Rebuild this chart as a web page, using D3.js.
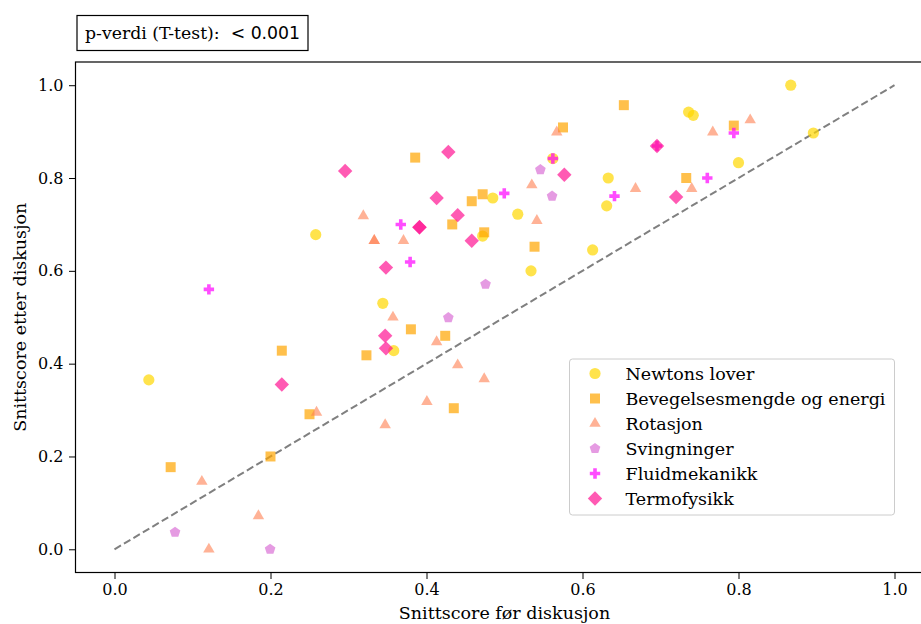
<!DOCTYPE html>
<html>
<head>
<meta charset="utf-8">
<script src="https://cdn.jsdelivr.net/npm/d3@7"></script>
<style>
  body { margin: 0; background: #fff; }
  svg { display: block; font-family: "DejaVu Serif", serif; }
</style>
</head>
<body>
<div id="chart"></div>
<script>
// categories
const categories = ["Newtons lover", "Bevegelsesmengde og energi", "Rotasjon",
    "Svingninger", "Fluidmekanikk", "Termofysikk"];

// average score before / after discussion, one pair of arrays per topic
const newtonsBefore = [0.044, 0.258, 0.344, 0.358, 0.867, 0.736, 0.742, 0.896, 0.800, 0.633,
    0.631, 0.613, 0.534, 0.517, 0.485, 0.472, 0.562];
const newtonsAfter = [0.365, 0.678, 0.530, 0.428, 1.000, 0.942, 0.935, 0.897, 0.833, 0.800,
    0.740, 0.645, 0.600, 0.722, 0.757, 0.675, 0.842];

const bevegelseBefore = [0.072, 0.200, 0.250, 0.2145, 0.323, 0.380, 0.424, 0.435, 0.3855, 0.433,
    0.458, 0.472, 0.474, 0.653, 0.575, 0.794, 0.733, 0.5385];
const bevegelseAfter = [0.177, 0.200, 0.291, 0.428, 0.418, 0.474, 0.460, 0.304, 0.844, 0.700,
    0.750, 0.765, 0.683, 0.957, 0.909, 0.913, 0.800, 0.652];

const rotasjonBefore = [0.112, 0.121, 0.1845, 0.259, 0.347, 0.357, 0.413, 0.440, 0.4005, 0.474,
    0.319, 0.333, 0.333, 0.3705, 0.567, 0.535, 0.5415, 0.668, 0.740, 0.767, 0.815];
const rotasjonAfter = [0.146, 0.000, 0.072, 0.295, 0.268, 0.500, 0.447, 0.397, 0.318, 0.367,
    0.7185, 0.665, 0.665, 0.665, 0.899, 0.785, 0.708, 0.777, 0.777, 0.899, 0.925];

const svingBefore = [0.0776, 0.1995, 0.428, 0.546, 0.561, 0.4757];
const svingAfter = [0.0366, 0.000, 0.499, 0.818, 0.761, 0.571];

const fluidBefore = [0.121, 0.367, 0.379, 0.4997, 0.562, 0.641, 0.760, 0.794, 0.6955];
const fluidAfter = [0.560, 0.700, 0.619, 0.767, 0.842, 0.761, 0.800, 0.897, 0.869];

const termoBefore = [0.2957, 0.428, 0.413, 0.391, 0.391, 0.348, 0.440, 0.458, 0.2145, 0.347,
    0.348, 0.5767, 0.6955, 0.720];
const termoAfter = [0.815, 0.856, 0.757, 0.694, 0.694, 0.607, 0.720, 0.665, 0.355, 0.460,
    0.433, 0.807, 0.869, 0.759];

const xTicks = [0.0, 0.2, 0.4, 0.6, 0.8, 1.0];
const yTicks = [0.0, 0.2, 0.4, 0.6, 0.8, 1.0];
const pValueText = "< 0.001";

const colors = ["#FFD700", "#FFA500", "#FF7F50", "#DA70D6", "#FF00FF", "#FF1493"];
const alphas = [0.7, 0.7, 0.6, 0.7, 0.7, 0.7];
const shapes = ["circle", "square", "triangle", "pentagon", "plus", "diamond"];

const seriesX = [newtonsBefore, bevegelseBefore, rotasjonBefore, svingBefore, fluidBefore, termoBefore];
const seriesY = [newtonsAfter, bevegelseAfter, rotasjonAfter, svingAfter, fluidAfter, termoAfter];

function markerPath(shape) {
    const p = d3.path();
    if (shape === "circle") {
        p.arc(0, 0, 5.6, 0, 2 * Math.PI);
    } else if (shape === "square") {
        p.rect(-5, -5, 10, 10);
    } else if (shape === "triangle") {
        const r = 6.6;
        p.moveTo(0, -r);
        p.lineTo(r * Math.cos(Math.PI / 6), r / 2);
        p.lineTo(-r * Math.cos(Math.PI / 6), r / 2);
        p.closePath();
    } else if (shape === "pentagon") {
        const r = 5.6;
        for (let i = 0; i < 5; i++) {
            const a = -Math.PI / 2 + i * 2 * Math.PI / 5;
            if (i === 0) p.moveTo(r * Math.cos(a), r * Math.sin(a));
            else p.lineTo(r * Math.cos(a), r * Math.sin(a));
        }
        p.closePath();
    } else if (shape === "plus") {
        const a = 5.2, b = 1.8;
        p.moveTo(-b, -a); p.lineTo(b, -a); p.lineTo(b, -b); p.lineTo(a, -b);
        p.lineTo(a, b); p.lineTo(b, b); p.lineTo(b, a); p.lineTo(-b, a);
        p.lineTo(-b, b); p.lineTo(-a, b); p.lineTo(-a, -b); p.lineTo(-b, -b);
        p.closePath();
    } else if (shape === "diamond") {
        const r = 7.2;
        p.moveTo(0, -r); p.lineTo(r, 0); p.lineTo(0, r); p.lineTo(-r, 0);
        p.closePath();
    }
    return p.toString();
}

function initScatter(selector) {
    const W = 921, H = 624;
    const margin = {top: 62, left: 75.5};
    const width = 858;
    const height = 510.5;

    const xScale = d3.scaleLinear().domain([-0.05, 1.05]).range([0, width]);
    const yScale = d3.scaleLinear().domain([-0.05, 1.05]).range([height, 0]);

    const svg = d3.select(selector).append("svg")
        .attr("width", W)
        .attr("height", H);

    // p-value box
    const pBox = svg.append("g");
    pBox.append("rect")
        .attr("x", 77).attr("y", 15.5)
        .attr("width", 231).attr("height", 35)
        .attr("fill", "#fff").attr("stroke", "#000").attr("stroke-width", 1.2);
    const pText = pBox.append("text")
        .attr("x", 85).attr("y", 39)
        .attr("font-size", 17.3)
        .attr("fill", "#000");
    pText.append("tspan").text("p-verdi (T-test):\u00a0\u00a0");
    pText.append("tspan").attr("font-family", "DejaVu Sans").text(pValueText);

    const g = svg.append("g")
        .attr("transform", `translate(${margin.left}, ${margin.top})`);

    // axes
    const xAxis = g.append("g")
        .attr("transform", `translate(0, ${height})`)
        .call(d3.axisBottom(xScale).tickValues(xTicks).tickFormat(d3.format(".1f")).tickSize(6.5).tickPadding(4.5));
    const yAxis = g.append("g")
        .call(d3.axisLeft(yScale).tickValues(yTicks).tickFormat(d3.format(".1f")).tickSize(6.5).tickPadding(5.5));
    [xAxis, yAxis].forEach(ax => {
        ax.attr("font-family", "DejaVu Serif").attr("font-size", 16);
        ax.selectAll("text").attr("fill", "#000");
        ax.selectAll("line").attr("stroke", "#000").attr("stroke-width", 1);
        ax.select(".domain").remove();
    });

    // spines (right spine falls outside the picture)
    g.append("rect")
        .attr("x", 0).attr("y", 0)
        .attr("width", width).attr("height", height)
        .attr("fill", "none").attr("stroke", "#000").attr("stroke-width", 1.2);

    // y = x reference
    g.append("line")
        .attr("x1", xScale(0)).attr("y1", yScale(0))
        .attr("x2", xScale(1)).attr("y2", yScale(1))
        .attr("stroke", "#808080").attr("stroke-width", 2)
        .attr("stroke-dasharray", "7.5,3.5");

    // points
    categories.forEach((cat, i) => {
        const pts = seriesX[i].map((x, k) => ({x: x, y: seriesY[i][k]}));
        g.append("g").selectAll("path")
            .data(pts)
            .join("path")
            .attr("d", markerPath(shapes[i]))
            .attr("transform", d => `translate(${xScale(d.x)}, ${yScale(d.y)})`)
            .attr("fill", colors[i])
            .attr("fill-opacity", alphas[i]);
    });

    // axis labels
    svg.append("text")
        .attr("x", margin.left + xScale(0.5)).attr("y", 619)
        .attr("text-anchor", "middle").attr("font-size", 17.5)
        .text("Snittscore før diskusjon");
    svg.append("text")
        .attr("transform", `translate(26, ${margin.top + height / 2}) rotate(-90)`)
        .attr("text-anchor", "middle").attr("font-size", 17.5)
        .text("Snittscore etter diskusjon");

    // legend
    const lg = svg.append("g").attr("transform", "translate(569.5, 359)");
    lg.append("rect")
        .attr("width", 325).attr("height", 156).attr("rx", 3)
        .attr("fill", "#fff").attr("fill-opacity", 0.8)
        .attr("stroke", "#ccc").attr("stroke-width", 1);
    categories.forEach((cat, i) => {
        const row = lg.append("g").attr("transform", `translate(0, ${14.5 + i * 25})`);
        row.append("path")
            .attr("d", markerPath(shapes[i]))
            .attr("transform", "translate(25.5, 0)")
            .attr("fill", colors[i]).attr("fill-opacity", alphas[i]);
        row.append("text")
            .attr("x", 56).attr("y", 6)
            .attr("font-size", 17.5)
            .text(cat);
    });
}

document.addEventListener('DOMContentLoaded', function () {
    initScatter("#chart");
});
</script>
</body>
</html>
